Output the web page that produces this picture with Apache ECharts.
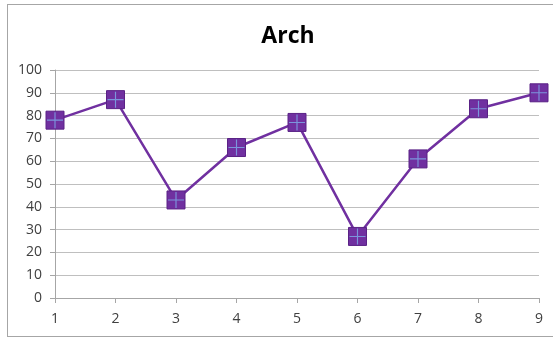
<!DOCTYPE html>
<html>
<head>
<meta charset="utf-8">
<script src="https://cdn.jsdelivr.net/npm/echarts@6/dist/echarts.min.js"></script>
<style>
  html, body { margin: 0; padding: 0; background: #fff; }
  #frame { position: absolute; left: 7px; top: 4px; width: 560px; height: 333px; border: 1px solid #a6a6a6; box-sizing: border-box; }
  #chart { position: absolute; left: 0; top: 0; width: 553px; height: 339px; }
</style>
</head>
<body>
<div id="frame"></div>
<div id="chart"></div>
<script>
// Chart data
const categories = ['1', '2', '3', '4', '5', '6', '7', '8', '9'];
const archValues = [78, 87, 43, 66, 77, 27, 61, 83, 90];
const yTicks = { min: 0, max: 100, interval: 10 };

const purple = '#7030a0';
const crossColor = '#7b95dc';
const labelFont = { color: '#404040', fontSize: 14, fontFamily: 'Open Sans, Liberation Sans, sans-serif' };

const chart = echarts.init(document.getElementById('chart'), null, { renderer: 'canvas' });
chart.setOption({
  animation: false,
  title: {
    text: 'Arch',
    left: 283,
    textAlign: 'center',
    top: 20,
    textStyle: { fontSize: 23, fontWeight: 'bold', color: '#000', fontFamily: 'Open Sans, Liberation Sans, sans-serif' }
  },
  grid: { left: 55, right: 14, top: 70, bottom: 41, containLabel: false },
  xAxis: {
    type: 'category',
    data: categories,
    boundaryGap: false,
    axisLine: { lineStyle: { color: '#a6a6a6' } },
    axisTick: { show: true, alignWithLabel: true, length: 5, lineStyle: { color: '#a6a6a6' } },
    axisLabel: Object.assign({ margin: 14 }, labelFont),
    splitLine: { show: false }
  },
  yAxis: {
    type: 'value',
    min: yTicks.min,
    max: yTicks.max,
    interval: yTicks.interval,
    axisLine: { show: true, lineStyle: { color: '#a6a6a6' } },
    axisTick: { show: true, length: 5, lineStyle: { color: '#a6a6a6' } },
    axisLabel: Object.assign({ margin: 13 }, labelFont),
    splitLine: { lineStyle: { color: '#bfbfbf', width: 1 } }
  },
  series: [
    {
      name: 'Arch',
      type: 'line',
      data: archValues,
      symbol: 'rect',
      symbolSize: 18,
      showAllSymbol: true,
      lineStyle: { color: purple, width: 2.5 },
      itemStyle: { color: purple, borderColor: '#5a2286', borderWidth: 1 },
      z: 2
    },
    {
      // plus mark drawn over each square marker
      name: 'cross',
      type: 'line',
      data: archValues,
      symbol: 'path://M9.3,0 L10.7,0 L10.7,9.3 L20,9.3 L20,10.7 L10.7,10.7 L10.7,20 L9.3,20 L9.3,10.7 L0,10.7 L0,9.3 L9.3,9.3 Z',
      symbolSize: 16,
      showAllSymbol: true,
      lineStyle: { opacity: 0 },
      itemStyle: { color: crossColor },
      z: 3,
      silent: true
    }
  ]
});
</script>
</body>
</html>
